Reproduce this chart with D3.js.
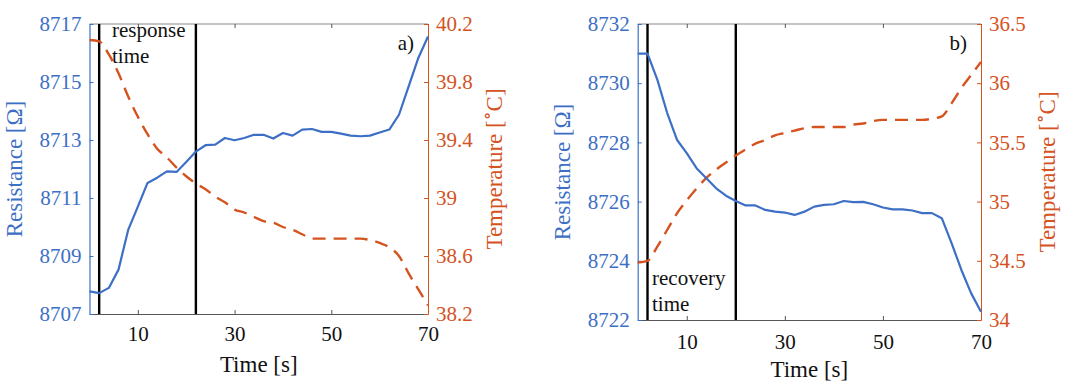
<!DOCTYPE html>
<html>
<head>
<meta charset="utf-8">
<script src="https://cdn.jsdelivr.net/npm/d3@7"></script>
<style>
  body { margin: 0; background: #fff; }
  svg { display: block; }
  svg text { font-family: "Liberation Serif", "Times New Roman", "DejaVu Serif", "Noto Serif", serif !important; }
</style>
</head>
<body>
<svg id="chart" width="1067" height="381"></svg>
<script>
// time samples (s), every 2 s
const time = d3.range(0, 71, 2);

// panel a) response
const resA = [8707.78, 8707.72, 8707.9, 8708.53, 8709.9, 8710.7, 8711.52, 8711.7, 8711.92, 8711.9,
  8712.24, 8712.6, 8712.82, 8712.84, 8713.07, 8712.99, 8713.07, 8713.18, 8713.18, 8713.05,
  8713.24, 8713.15, 8713.36, 8713.38, 8713.28, 8713.28, 8713.22, 8713.15, 8713.13, 8713.15,
  8713.26, 8713.36, 8713.87, 8714.85, 8715.83, 8716.57];
const tempA = [40.09, 40.08, 39.99, 39.86, 39.70, 39.56, 39.44, 39.34, 39.28, 39.21,
  39.15, 39.10, 39.06, 39.01, 38.97, 38.92, 38.90, 38.87, 38.84, 38.83,
  38.80, 38.78, 38.75, 38.72, 38.72, 38.72, 38.72, 38.72, 38.72, 38.71,
  38.69, 38.66, 38.60, 38.48, 38.37, 38.26];

// panel b) recovery
const resB = [8731.0, 8731.0, 8730.12, 8729.0, 8728.09, 8727.64, 8727.13, 8726.79, 8726.45, 8726.2,
  8726.02, 8725.87, 8725.87, 8725.72, 8725.66, 8725.63, 8725.55, 8725.66, 8725.83, 8725.89,
  8725.91, 8726.02, 8725.98, 8725.99, 8725.91, 8725.80, 8725.74, 8725.74, 8725.70, 8725.61,
  8725.61, 8725.44, 8724.6, 8723.69, 8722.9, 8722.28];
const tempB = [34.485, 34.5, 34.62, 34.76, 34.90, 35.01, 35.11, 35.20, 35.27, 35.33,
  35.39, 35.44, 35.49, 35.52, 35.56, 35.58, 35.60, 35.62, 35.63, 35.63,
  35.63, 35.63, 35.65, 35.66, 35.68, 35.69, 35.69, 35.69, 35.69, 35.69,
  35.70, 35.72, 35.83, 35.96, 36.07, 36.18];

const xTicks = [10, 30, 50, 70];
const resTicksA = [8707, 8709, 8711, 8713, 8715, 8717];
const tempTicksA = [38.2, 38.6, 39, 39.4, 39.8, 40.2];
const resTicksB = [8722, 8724, 8726, 8728, 8730, 8732];
const tempTicksB = [34, 34.5, 35, 35.5, 36, 36.5];

const blue = "#3d6fc5";
const orange = "#d4531f";
const svg = d3.select("#chart");

function panel(opt) {
  const x = d3.scaleLinear().domain([0, 70]).range([opt.left, opt.right]);
  const yL = d3.scaleLinear().domain(d3.extent(opt.resTicks)).range([opt.bottom, opt.top]);
  const yR = d3.scaleLinear().domain(d3.extent(opt.tempTicks)).range([opt.bottom, opt.top]);
  const g = svg.append("g");

  // frame top
  g.append("line").attr("x1", opt.left).attr("x2", opt.right).attr("y1", opt.top).attr("y2", opt.top)
    .attr("stroke", "#8a8a8a").attr("stroke-width", 1.2);

  // x axis (bottom + mirrored top ticks)
  g.append("g").attr("transform", `translate(0,${opt.bottom})`)
    .call(d3.axisBottom(x).tickValues(xTicks).tickSizeInner(-4).tickSizeOuter(0).tickPadding(opt.xPad))
    .call(a => a.select(".domain").attr("stroke", "#555").attr("stroke-width", 1.2))
    .call(a => a.selectAll(".tick line").attr("stroke", "#555"))
    .call(a => a.selectAll("text").attr("font-size", 21).attr("fill", "#111"));
  g.append("g").attr("transform", `translate(0,${opt.top})`)
    .call(d3.axisTop(x).tickValues(xTicks).tickSizeInner(-4).tickSizeOuter(0).tickFormat(""))
    .call(a => a.select(".domain").remove())
    .call(a => a.selectAll(".tick line").attr("stroke", "#555"));

  // left axis (resistance)
  g.append("g").attr("transform", `translate(${opt.left},0)`)
    .call(d3.axisLeft(yL).tickValues(opt.resTicks).tickSizeInner(-4).tickSizeOuter(0).tickPadding(8)
      .tickFormat(d3.format("d")))
    .call(a => a.select(".domain").attr("stroke", blue).attr("stroke-width", 1.2))
    .call(a => a.selectAll(".tick line").attr("stroke", blue))
    .call(a => a.selectAll("text").attr("font-size", 21).attr("fill", blue));

  // right axis (temperature)
  g.append("g").attr("transform", `translate(${opt.right},0)`)
    .call(d3.axisRight(yR).tickValues(opt.tempTicks).tickSizeInner(-4).tickSizeOuter(0).tickPadding(8)
      .tickFormat(d => String(+d.toFixed(1))))
    .call(a => a.select(".domain").attr("stroke", orange).attr("stroke-width", 1))
    .call(a => a.selectAll(".tick line").attr("stroke", orange))
    .call(a => a.selectAll("text").attr("font-size", 21).attr("fill", orange));

  // marker lines
  opt.marks.forEach(t => {
    g.append("line").attr("x1", x(t)).attr("x2", x(t)).attr("y1", opt.top).attr("y2", opt.bottom)
      .attr("stroke", "#000").attr("stroke-width", 2.4);
  });

  // data lines
  const lineR = d3.line().x((d, i) => x(time[i])).y(d => yL(d));
  const lineT = d3.line().x((d, i) => x(time[i])).y(d => yR(d)).curve(d3.curveMonotoneX);
  g.append("path").datum(opt.temp).attr("d", lineT).attr("fill", "none")
    .attr("stroke", orange).attr("stroke-width", 2.4).attr("stroke-dasharray", "13,8");
  g.append("path").datum(opt.res).attr("d", lineR).attr("fill", "none")
    .attr("stroke", blue).attr("stroke-width", 2.2).attr("stroke-linejoin", "round");

  // annotations
  const note = g.append("text").attr("font-size", 21).attr("fill", "#111");
  opt.note.forEach((s, i) => {
    note.append("tspan").attr("x", opt.noteX).attr("y", opt.noteY + i * 26).text(s);
  });
  g.append("text").attr("x", opt.right - 14).attr("y", opt.top + 26).attr("text-anchor", "end")
    .attr("font-size", 21).attr("fill", "#111").text(opt.tag);

  // axis titles
  g.append("text").attr("x", (opt.left + opt.right) / 2).attr("y", opt.titleY)
    .attr("text-anchor", "middle").attr("font-size", 23).attr("fill", "#111").text("Time [s]");
  g.append("text").attr("transform", `translate(${opt.left - 68},${(opt.top + opt.bottom) / 2}) rotate(-90)`)
    .attr("text-anchor", "middle").attr("font-size", 23).attr("fill", blue).text("Resistance [Ω]");
  const tt = g.append("text")
    .attr("transform", `translate(${opt.right + 74},${(opt.top + opt.bottom) / 2}) rotate(-90)`)
    .attr("text-anchor", "middle").attr("font-size", 23).attr("fill", orange);
  tt.append("tspan").text("Temperature [");
  tt.append("tspan").attr("dy", -9).attr("font-size", 18).text("∘");
  tt.append("tspan").attr("dy", 9).text("C]");
}

panel({
  left: 89.5, right: 428, top: 24, bottom: 314, xPad: 12, titleY: 372,
  res: resA, temp: tempA, resTicks: resTicksA, tempTicks: tempTicksA,
  marks: [2, 22], note: ["response", "time"], noteX: 112, noteY: 37, tag: "a)"
});
panel({
  left: 637.7, right: 981, top: 24, bottom: 320, xPad: 14, titleY: 377,
  res: resB, temp: tempB, resTicks: resTicksB, tempTicks: tempTicksB,
  marks: [2, 20], note: ["recovery", "time"], noteX: 652, noteY: 285, tag: "b)"
});
</script>
</body>
</html>
